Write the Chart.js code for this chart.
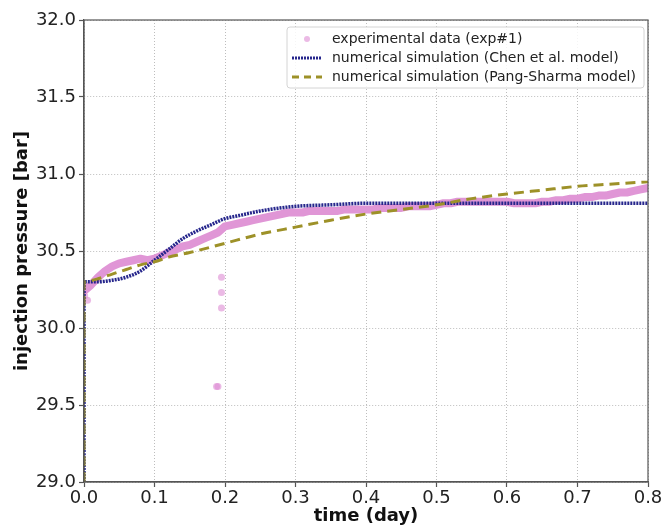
<!DOCTYPE html>
<html>
<head>
<meta charset="utf-8">
<script src="https://cdn.jsdelivr.net/npm/chart.js@4/dist/chart.umd.min.js"></script>
<style>
  html, body { margin: 0; padding: 0; background: #fff; }
  #wrap { width: 662px; height: 527px; }
</style>
</head>
<body>
<div id="wrap"><canvas id="pressureChart"></canvas></div>
<script>
const expTime = [
  0.00, 0.01, 0.02, 0.03, 0.04, 0.05, 0.06, 0.07, 0.08, 0.09,
  0.10, 0.11, 0.12, 0.13, 0.14, 0.15, 0.16, 0.17, 0.18, 0.19,
  0.20, 0.21, 0.22, 0.23, 0.24, 0.25, 0.26, 0.27, 0.28, 0.29,
  0.30, 0.31, 0.32, 0.33, 0.34, 0.35, 0.36, 0.37, 0.38, 0.39,
  0.40, 0.41, 0.42, 0.43, 0.44, 0.45, 0.46, 0.47, 0.48, 0.49,
  0.50, 0.51, 0.52, 0.53, 0.54, 0.55, 0.56, 0.57, 0.58, 0.59,
  0.60, 0.61, 0.62, 0.63, 0.64, 0.65, 0.66, 0.67, 0.68, 0.69,
  0.70, 0.71, 0.72, 0.73, 0.74, 0.75, 0.76, 0.77, 0.78, 0.79, 0.80
];
const expPressure = [
  30.24, 30.28, 30.33, 30.37, 30.40, 30.42, 30.43, 30.44, 30.45, 30.44,
  30.45, 30.47, 30.49, 30.51, 30.53, 30.54, 30.56, 30.58, 30.60, 30.62,
  30.66, 30.67, 30.68, 30.69, 30.70, 30.71, 30.72, 30.73, 30.74, 30.75,
  30.75, 30.75, 30.76, 30.76, 30.76, 30.76, 30.76, 30.77, 30.77, 30.77,
  30.77, 30.77, 30.78, 30.78, 30.78, 30.78, 30.79, 30.79, 30.79, 30.79,
  30.80, 30.81, 30.81, 30.82, 30.82, 30.82, 30.82, 30.82, 30.82, 30.82,
  30.82, 30.81, 30.81, 30.81, 30.81, 30.82, 30.82, 30.83, 30.83, 30.84,
  30.84, 30.85, 30.85, 30.86, 30.86, 30.87, 30.88, 30.88, 30.89, 30.90, 30.91
];
// stray measurement points
const outlierTime = [0.001, 0.005, 0.188, 0.190, 0.195, 0.195, 0.195];
const outlierPressure = [30.21, 30.18, 29.62, 29.62, 30.33, 30.23, 30.13];

// numerical simulation (Chen et al. model)
const chenTime = [0, 0, 0.02, 0.04, 0.06, 0.08, 0.10, 0.12, 0.14, 0.16, 0.18, 0.20, 0.22, 0.25, 0.30, 0.35, 0.40, 0.50, 0.60, 0.70, 0.80];
const chenPressure = [29.0, 30.30, 30.30, 30.31, 30.33, 30.37, 30.44, 30.51, 30.58, 30.63, 30.67, 30.71, 30.73, 30.76, 30.79, 30.80, 30.81, 30.81, 30.81, 30.81, 30.81];

// numerical simulation (Pang-Sharma model)
const pangTime = [0, 0, 0.02, 0.04, 0.06, 0.08, 0.10, 0.12, 0.15, 0.20, 0.25, 0.30, 0.35, 0.40, 0.45, 0.50, 0.55, 0.60, 0.65, 0.70, 0.75, 0.80];
const pangPressure = [29.0, 30.30, 30.32, 30.35, 30.38, 30.41, 30.43, 30.46, 30.49, 30.55, 30.61, 30.655, 30.70, 30.74, 30.77, 30.80, 30.84, 30.87, 30.895, 30.92, 30.935, 30.95];

const seriesLabels = [
  'experimental data (exp#1)',
  'numerical simulation (Chen et al. model)',
  'numerical simulation (Pang-Sharma model)'
];

const PINK = 'rgb(224,150,214)';
const PINK_LIGHT = 'rgba(222,140,212,0.6)';
const NAVY = '#26268c';
const OLIVE = '#9d9128';
const FONT = "'DejaVu Sans', sans-serif";

const toPoints = (xs, ys) => xs.map((x, i) => ({ x: x, y: ys[i] }));

// box around the axes + legend inside the plot
const framePlugin = {
    id: 'frame',
    afterDatasetsDraw(chart) {
        const { ctx, chartArea: a } = chart;
        ctx.save();
        ctx.strokeStyle = '#555';
        ctx.lineWidth = 1.2;
        ctx.strokeRect(a.left, a.top, a.right - a.left, a.bottom - a.top);

        // legend
        const bx = 287, by = 27, bw = 357, bh = 61;
        ctx.fillStyle = 'rgba(255,255,255,0.85)';
        ctx.strokeStyle = '#d4d4d4';
        ctx.lineWidth = 1;
        ctx.beginPath();
        ctx.roundRect(bx, by, bw, bh, 3);
        ctx.fill();
        ctx.stroke();

        ctx.font = '14px ' + FONT;
        ctx.fillStyle = '#222';
        ctx.textBaseline = 'middle';
        const rows = [39, 58, 77];
        const textX = 332;
        seriesLabels.forEach((lab, i) => ctx.fillText(lab, textX, rows[i]));

        // pink dot
        ctx.fillStyle = PINK_LIGHT;
        ctx.beginPath();
        ctx.arc(307, rows[0], 3, 0, Math.PI * 2);
        ctx.fill();
        // navy dotted
        ctx.strokeStyle = NAVY;
        ctx.lineWidth = 3;
        ctx.setLineDash([2, 1]);
        ctx.beginPath();
        ctx.moveTo(292, rows[1]);
        ctx.lineTo(321, rows[1]);
        ctx.stroke();
        // olive dashed
        ctx.strokeStyle = OLIVE;
        ctx.setLineDash([7, 5]);
        ctx.beginPath();
        ctx.moveTo(292, rows[2]);
        ctx.lineTo(322, rows[2]);
        ctx.stroke();
        ctx.restore();
    }
};

const gridOpts = {
    color: '#bdbdbd',
    lineWidth: 1,
    drawTicks: true,
    tickLength: 5,
    tickColor: '#555',
    tickWidth: 1.2
};

new Chart(document.getElementById('pressureChart'), {
    type: 'scatter',
    data: {
        datasets: [
            {
                // dense measurements merge into a band, so they are drawn as a thick round-capped stroke
                label: seriesLabels[0],
                data: toPoints(expTime, expPressure),
                showLine: true,
                borderColor: PINK,
                borderWidth: 8,
                borderCapStyle: 'round',
                borderJoinStyle: 'round',
                tension: 0,
                backgroundColor: PINK,
                pointRadius: 0,
                order: 4
            },
            {
                label: seriesLabels[0] + ' (stray)',
                data: toPoints(outlierTime, outlierPressure),
                backgroundColor: PINK_LIGHT,
                borderWidth: 0,
                pointRadius: 3.5,
                order: 3
            },
            {
                label: seriesLabels[1],
                data: toPoints(chenTime, chenPressure),
                showLine: true,
                borderColor: NAVY,
                borderWidth: 3.5,
                borderDash: [2, 1],
                cubicInterpolationMode: 'monotone',
                pointRadius: 0,
                order: 2
            },
            {
                label: seriesLabels[2],
                data: toPoints(pangTime, pangPressure),
                showLine: true,
                borderColor: OLIVE,
                borderWidth: 3,
                borderDash: [10, 6],
                cubicInterpolationMode: 'monotone',
                pointRadius: 0,
                order: 1
            }
        ]
    },
    options: {
        responsive: true,
        maintainAspectRatio: false,
        animation: false,
        layout: { padding: { top: 20, right: 0, left: 12, bottom: 0 } },
        plugins: {
            legend: { display: false },
            tooltip: { enabled: false }
        },
        scales: {
            x: {
                type: 'linear',
                min: 0, max: 0.8,
                afterFit: s => { s.height = 45; s.paddingRight = 14; s.paddingLeft = 0; },
                ticks: {
                    stepSize: 0.1,
                    padding: 1,
                    color: '#222',
                    font: { family: FONT, size: 18 },
                    callback: v => v.toFixed(1)
                },
                grid: gridOpts,
                border: { color: '#555', width: 1.2, dash: [1, 2] },
                title: {
                    display: true,
                    text: 'time (day)',
                    color: '#111',
                    font: { family: FONT, size: 18, weight: 'bold' },
                    padding: { top: 0, bottom: 0 }
                }
            },
            y: {
                type: 'linear',
                min: 29, max: 32,
                afterFit: s => { s.width = 72; },
                ticks: {
                    stepSize: 0.5,
                    padding: 3,
                    color: '#222',
                    font: { family: FONT, size: 18 },
                    callback: v => v.toFixed(1)
                },
                grid: gridOpts,
                border: { color: '#555', width: 1.2, dash: [1, 2] },
                title: {
                    display: true,
                    text: 'injection pressure [bar]',
                    color: '#111',
                    font: { family: FONT, size: 18, weight: 'bold' },
                    padding: { top: 0, bottom: 2 }
                }
            }
        }
    },
    plugins: [framePlugin]
});
</script>
</body>
</html>
